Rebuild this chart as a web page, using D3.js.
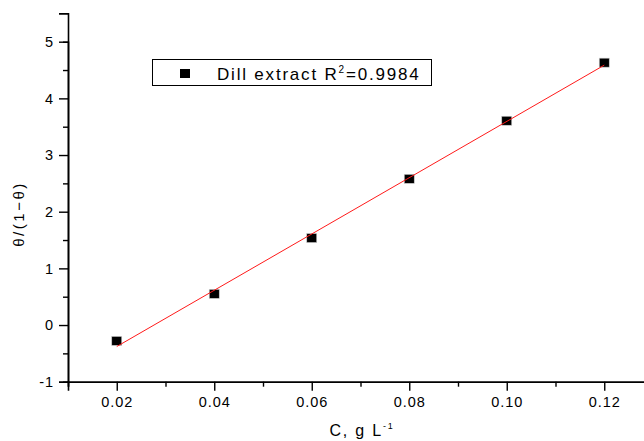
<!DOCTYPE html>
<html>
<head>
<meta charset="utf-8">
<script src="https://cdn.jsdelivr.net/npm/d3@7"></script>
<style>
  html, body { margin: 0; padding: 0; background: #fff; }
  svg { display: block; }
  text { font-family: "Liberation Sans", Arial, sans-serif; fill: #000; }
</style>
</head>
<body>
<svg id="chart" width="644" height="441"></svg>
<script>
// Concentration of dill extract (g/L) and the Langmuir term θ/(1−θ)
const concentration = [0.02, 0.04, 0.06, 0.08, 0.10, 0.12];
const thetaRatio = [-0.28, 0.55, 1.535, 2.58, 3.605, 4.63];
const xMajorTicks = [0.02, 0.04, 0.06, 0.08, 0.10, 0.12];
const xMinorTicks = [0.01, 0.03, 0.05, 0.07, 0.09, 0.11, 0.13];
const yMajorTicks = [-1, 0, 1, 2, 3, 4, 5];
const yMinorTicks = [-0.5, 0.5, 1.5, 2.5, 3.5, 4.5];
const legendLabel = "Dill extract R";
const legendSup = "2";
const legendValue = "=0.9984";

const svg = d3.select("#chart");

const x = d3.scaleLinear().domain([0.01, 0.13]).range([68, 653]);
const y = d3.scaleLinear().domain([-1, 5]).range([381.7, 41.7]);
const yTop = 5.5;

// least-squares fit through the measured points
const n = concentration.length;
const mx = d3.mean(concentration), my = d3.mean(thetaRatio);
let sxy = 0, sxx = 0;
for (let i = 0; i < n; i++) {
  sxy += (concentration[i] - mx) * (thetaRatio[i] - my);
  sxx += (concentration[i] - mx) ** 2;
}
const slope = sxy / sxx, intercept = my - slope * mx;
const xMin = d3.min(concentration), xMax = d3.max(concentration);

// axes
const gx = svg.append("g").attr("transform", `translate(0,${y(-1)})`);
gx.call(d3.axisBottom(x).tickValues(xMajorTicks).tickSize(9).tickPadding(6)
  .tickFormat(d3.format(".2f")));
gx.append("g").call(d3.axisBottom(x).tickValues(xMinorTicks).tickSize(5).tickFormat(""));

const gy = svg.append("g").attr("transform", `translate(${x(0.01)},0)`);
gy.call(d3.axisLeft(y.copy().domain([-1, yTop]).range([y(-1), y(yTop)]))
  .tickValues(yMajorTicks).tickSize(9).tickPadding(5).tickFormat(d => String(d)));
gy.append("g").call(d3.axisLeft(y).tickValues(yMinorTicks).tickSize(5).tickFormat(""));

svg.selectAll(".domain").attr("stroke", "#000").attr("stroke-width", 1.6);
svg.selectAll(".tick line").attr("stroke", "#000").attr("stroke-width", 1.4);
svg.selectAll(".tick text").style("font-size", "14.5px").style("letter-spacing", "0.9px");

// data points
svg.append("g").selectAll("rect").data(concentration).join("rect")
  .attr("x", d => x(d) - 5)
  .attr("y", (d, i) => y(thetaRatio[i]) - 4.5)
  .attr("width", 10).attr("height", 9)
  .attr("fill", "#000").attr("stroke", "#ccc").attr("stroke-width", 0.6);

// fitted line, drawn over the markers
svg.append("line")
  .attr("x1", x(xMin)).attr("y1", y(intercept + slope * xMin))
  .attr("x2", x(xMax)).attr("y2", y(intercept + slope * xMax))
  .attr("stroke", "#ff1a1a").attr("stroke-width", 1);

// legend
const lg = svg.append("g");
lg.append("rect").attr("x", 152.5).attr("y", 59.5).attr("width", 279).attr("height", 26)
  .attr("fill", "#fff").attr("stroke", "#000").attr("stroke-width", 1);
lg.append("rect").attr("x", 180).attr("y", 69).attr("width", 10).attr("height", 9).attr("fill", "#000");
const lt = lg.append("text").attr("x", 217).attr("y", 80)
  .style("font-size", "17px").style("letter-spacing", "1.8px");
lt.append("tspan").text(legendLabel);
lt.append("tspan").attr("dy", -7).style("font-size", "10px").text(legendSup);
lt.append("tspan").attr("dy", 7).text(legendValue);

// axis titles
const xt = svg.append("text").attr("x", 362).attr("y", 436).attr("text-anchor", "middle")
  .style("font-size", "16px").style("letter-spacing", "1.8px");
xt.append("tspan").text("C, g L");
xt.append("tspan").attr("dy", -7).style("font-size", "9px").text("-1");

svg.append("text")
  .attr("transform", "translate(24,214) rotate(-90)")
  .attr("text-anchor", "middle")
  .style("font-size", "15px")
  .style("letter-spacing", "2.5px")
  .text("θ/(1−θ)");
</script>
</body>
</html>
